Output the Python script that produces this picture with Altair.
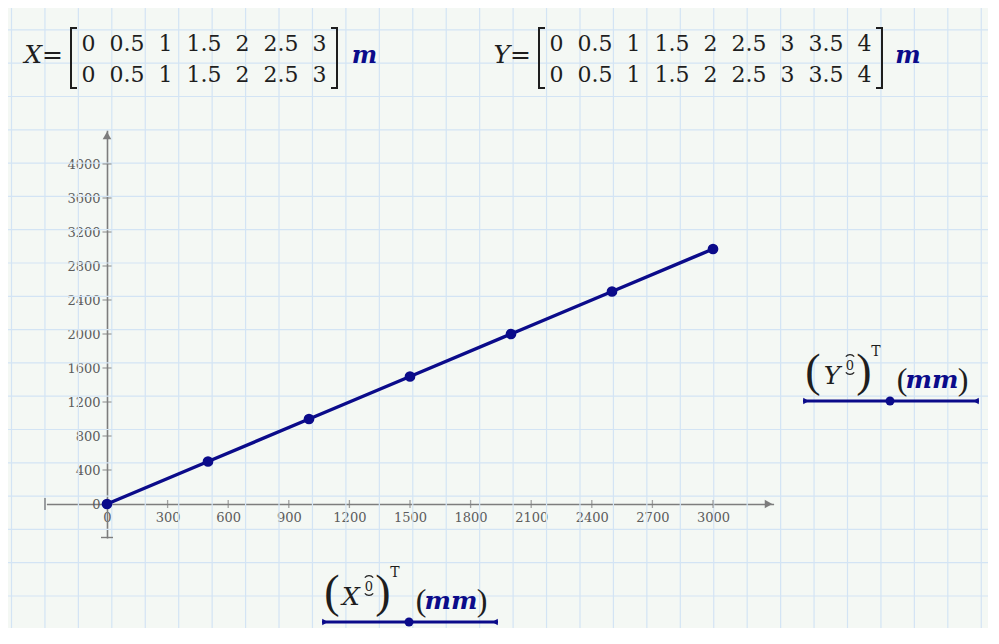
import altair as alt
import numpy as np
import pandas as pd

# ---------------- data ----------------
X_MATRIX_M = [0, 0.5, 1, 1.5, 2, 2.5, 3]
Y_MATRIX_M = [0, 0.5, 1, 1.5, 2, 2.5, 3, 3.5, 4]
plot_x_mm = [0, 500, 1000, 1500, 2000, 2500, 3000]
plot_y_mm = [0, 500, 1000, 1500, 2000, 2500, 3000]
x_tick_labels = [0, 300, 600, 900, 1200, 1500, 1800, 2100, 2400, 2700, 3000]
y_tick_labels = [0, 400, 800, 1200, 1600, 2000, 2400, 2800, 3200, 3600, 4000]
x_axis_range = [-300, 3300]
y_axis_range = [-400, 4400]

# ---------------- layout constants ----------------
PAD_L, PAD_T = 38.4, 122
W, H = 727.2, 408
TOTAL_W, TOTAL_H = 980, 620
OX, OY = 8 + PAD_L, 8 + PAD_T  # window position of plot origin

SERIF = "DejaVu Serif"
TSERIF = "Liberation Serif"
NAVY = "#0b0b8a"
INK = "#1e1e1e"
AXIS_GRAY = "#7d7d7d"
LABEL_GRAY = "#5c5c5c"
PAPER = "#f4f8f4"
GRID = "#d3e4f4"

one = alt.Data(values=[{"a": 1}])


def wx(v):
    return v - OX


def wy(v):
    return v - OY


def txt(s, x, y, size, color=INK, style="normal", weight="normal", font=SERIF,
        align="center", baseline="alphabetic"):
    return alt.Chart(one).mark_text(
        text=s, fontSize=size, font=font, fontStyle=style, fontWeight=weight,
        color=color, align=align, baseline=baseline
    ).encode(x=alt.value(wx(x)), y=alt.value(wy(y)))


def seg(x1, y1, x2, y2, color=INK, width=2.0):
    return alt.Chart(one).mark_rule(color=color, strokeWidth=width).encode(
        x=alt.value(wx(x1)), y=alt.value(wy(y1)),
        x2=alt.value(wx(x2)), y2=alt.value(wy(y2)))


def sym(shape, x, y, size, color):
    return alt.Chart(one).mark_point(
        shape=shape, filled=True, size=size, color=color, opacity=1, strokeWidth=0
    ).encode(x=alt.value(wx(x)), y=alt.value(wy(y)))


def arc(x, y, r, t1, t2, color=INK):
    return alt.Chart(one).mark_arc(
        outerRadius=r, innerRadius=r - 1.2, color=color
    ).encode(x=alt.value(wx(x)), y=alt.value(wy(y)),
             theta=alt.value(t1), theta2=alt.value(t2))


layers = []

# ---------------- paper grid ----------------
gx = np.arange(11.5, TOTAL_W + 8, 33.44) - OX
gy = np.arange(29.9, TOTAL_H + 8, 33.3) - OY
layers.append(alt.Chart(pd.DataFrame({"gx": gx})).mark_rule(color=GRID, strokeWidth=1.2).encode(
    x=alt.X("gx:Q", scale=None, axis=None),
    y=alt.value(-PAD_T), y2=alt.value(TOTAL_H - PAD_T)))
layers.append(alt.Chart(pd.DataFrame({"gy": gy})).mark_rule(color=GRID, strokeWidth=1.2).encode(
    y=alt.Y("gy:Q", scale=None, axis=None),
    x=alt.value(-PAD_L), x2=alt.value(TOTAL_W - PAD_L)))

# ---------------- plot ----------------
xs = alt.Scale(domain=x_axis_range, nice=False, zero=False)
ys = alt.Scale(domain=y_axis_range, nice=False, zero=False)

xaxis = alt.Axis(orient="bottom", offset=-34, values=x_tick_labels, ticks=False, tickSize=0,
                 grid=False, domainColor=AXIS_GRAY, domainWidth=1.6, labelPadding=7,
                 labelFont=SERIF, labelFontSize=13, labelColor=LABEL_GRAY, format="d",
                 labelOverlap=False, labelFlush=False, title=None)
yaxis = alt.Axis(orient="left", offset=-60.6, values=y_tick_labels, ticks=False, tickSize=0,
                 grid=False, domainColor=AXIS_GRAY, domainWidth=1.6, labelPadding=7,
                 labelFont=SERIF, labelFontSize=13, labelColor=LABEL_GRAY, format="d",
                 labelOverlap=False, labelFlush=False, title=None)

pts = pd.DataFrame({"x": plot_x_mm, "y": plot_y_mm})

layers.append(alt.Chart(pts).mark_line(color=NAVY, strokeWidth=3.5).encode(
    x=alt.X("x:Q", scale=xs, axis=xaxis),
    y=alt.Y("y:Q", scale=ys, axis=yaxis)))

# axis tick marks crossing the axes
xt = pd.DataFrame({"t": x_tick_labels[1:], "z": 0})
yt = pd.DataFrame({"t": y_tick_labels[1:], "z": 0})
layers.append(alt.Chart(xt).mark_tick(orient="vertical", size=8, thickness=1.3, color=AXIS_GRAY).encode(
    x=alt.X("t:Q", scale=xs, axis=None), y=alt.Y("z:Q", scale=ys, axis=None)))
layers.append(alt.Chart(yt).mark_tick(orient="horizontal", size=9, thickness=1.3, color=AXIS_GRAY).encode(
    x=alt.X("z:Q", scale=xs, axis=None), y=alt.Y("t:Q", scale=ys, axis=None)))

layers.append(alt.Chart(pts).mark_circle(color=NAVY, size=115, opacity=1).encode(
    x=alt.X("x:Q", scale=xs, axis=None),
    y=alt.Y("y:Q", scale=ys, axis=None)))

# axis end caps and arrows
layers.append(seg(45, 498, 45, 510, AXIS_GRAY, 1.4))
layers.append(seg(101, 537.5, 113, 537.5, AXIS_GRAY, 1.4))
layers.append(sym("triangle-right", 768.5, 504, 75, AXIS_GRAY))
layers.append(sym("triangle-up", 107, 135.5, 75, AXIS_GRAY))

# ---------------- matrices ----------------
NB = "\u00a0\u00a0"


def matrix(name, vals, name_right, lb, rb, m_center):
    row = NB.join(f"{v:g}" for v in vals)
    center = (lb + rb) / 2
    out = [
        txt(name + "=", name_right, 63, 25, style="italic", align="right"),
        txt(row, center, 51, 22),
        txt(row, center, 82, 22),
        seg(lb, 27, lb, 89), seg(lb, 28, lb + 6, 28), seg(lb, 88, lb + 6, 88),
        seg(rb, 27, rb, 89), seg(rb - 6, 28, rb, 28), seg(rb - 6, 88, rb, 88),
        txt("m", m_center, 63, 24, color=NAVY, style="italic", weight="bold"),
    ]
    return out


layers += matrix("X", X_MATRIX_M, 63, 71, 337, 364.5)
layers += matrix("Y", Y_MATRIX_M, 531, 539, 882, 908)

# ---------------- trace labels (legend-like) ----------------


def trace_label(var, dx, dy):
    out = [
        txt("(", 332 + dx, 607 + dy, 46, font=TSERIF),
        txt(var, 351 + dx, 605 + dy, 25, style="italic"),
        txt("0", 369 + dx, 591 + dy, 13),
        arc(369 + dx, 581 + dy, 6, 5.4, 7.17),
        arc(369 + dx, 590 + dy, 6, 2.25, 4.03),
        txt(")", 383 + dx, 607 + dy, 46, font=TSERIF),
        txt("T", 395 + dx, 577 + dy, 14),
        txt("(", 421 + dx, 611 + dy, 32, font=TSERIF),
        txt("mm", 451 + dx, 609 + dy, 25, color=NAVY, style="italic", weight="bold"),
        txt(")", 482 + dx, 611 + dy, 32, font=TSERIF),
        seg(322 + dx, 622 + dy, 498 + dx, 622 + dy, NAVY, 3),
        sym("circle", 409 + dx, 622 + dy, 80, NAVY),
        sym("triangle-right", 325 + dx, 622 + dy, 40, NAVY),
        sym("triangle-left", 495 + dx, 622 + dy, 40, NAVY),
    ]
    return out


layers += trace_label("X", 0, 0)
layers += trace_label("Y", 481, -221)

chart = alt.layer(*layers).resolve_axis(x="independent", y="independent").properties(
    width=W, height=H,
    padding={"left": PAD_L, "top": PAD_T, "right": TOTAL_W - PAD_L - W, "bottom": TOTAL_H - PAD_T - H},
    autosize=alt.AutoSizeParams(type="none"),
    background=PAPER,
).configure_view(stroke=None)

chart.save("out.html", embed_options={"renderer": "svg", "actions": False})
